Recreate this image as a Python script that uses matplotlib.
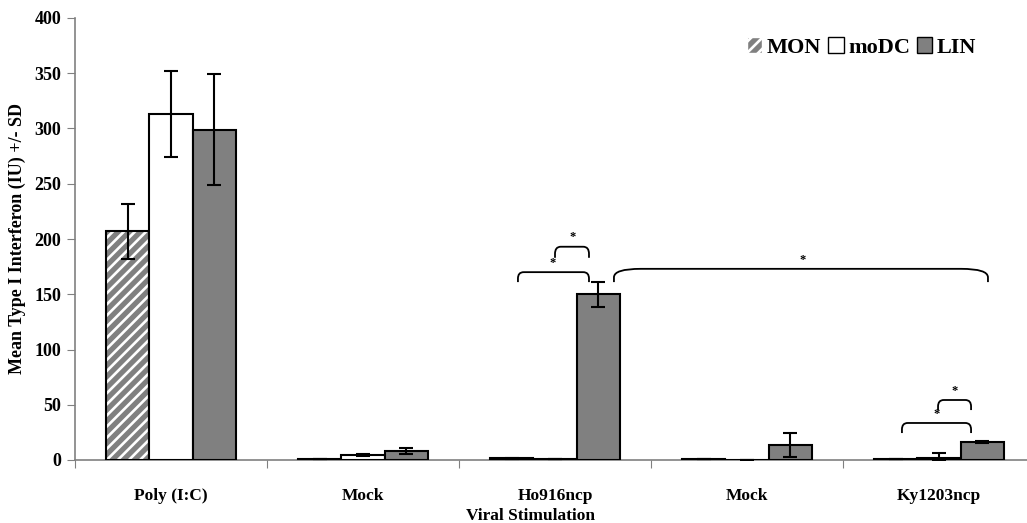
import numpy as np
import matplotlib
matplotlib.use("Agg")
import matplotlib.pyplot as plt
from matplotlib.path import Path
from matplotlib.patches import PathPatch, Patch

# ── Data ──────────────────────────────────────────────────────────────────────

categories = ["Poly (I:C)", "Mock", "Ho916ncp", "Mock", "Ky1203ncp"]
series     = ["MON", "moDC", "LIN"]

mon_mean  = [207, 0.5, 1.5, 0.5, 0.5]
mon_sd    = [25, 0, 0.5, 0, 0]
modc_mean = [313, 4.5, 0.5, 0.0, 1.5]
modc_sd   = [39, 0.5, 0, 0, 4.5]
lin_mean  = [299, 8, 150, 13.5, 16]
lin_sd    = [50, 3, 11.5, 11, 1]

# significance brackets: (x0, x1, y_top, y_end, star_x)
brackets = [
    (1.807, 2.177, 170, 161, 1.99),
    (2.000, 2.177, 193, 183, 2.09),
    (3.807, 4.167, 33.5, 24.4, 3.99),
    (3.995, 4.167, 54.3, 45.2, 4.08),
]
long_brace = (2.307, 4.255, 173, 161, 3.29)

# ── Style ─────────────────────────────────────────────────────────────────────

GREY = "#808080"
plt.rcParams.update({
    "font.family": ["Liberation Serif", "DejaVu Serif"],
    "font.weight": "bold",
    "axes.labelweight": "bold",
    "hatch.linewidth": 1.9,
})

W, H = 1027, 523
fig = plt.figure(figsize=(W / 100, H / 100), dpi=100)
ax = fig.add_axes([75 / W, 63 / H, 960 / W, 442 / H])

x = np.arange(len(categories))
bw = 0.224

# MON: grey with white diagonal stripes
ax.bar(x - bw, mon_mean, bw, color=GREY, edgecolor="white", hatch="///",
       linewidth=0, zorder=2)
ax.bar(x - bw, mon_mean, bw, fill=False, edgecolor="black", linewidth=1.5, zorder=3)
ax.bar(x, modc_mean, bw, color="white", edgecolor="black", linewidth=1.5, zorder=3)
ax.bar(x + bw, lin_mean, bw, color=GREY, edgecolor="black", linewidth=1.5, zorder=3)

for off, m, s in [(-bw, mon_mean, mon_sd), (0, modc_mean, modc_sd), (bw, lin_mean, lin_sd)]:
    lo = [min(sv, mv) for mv, sv in zip(m, s)]
    ax.errorbar(x + off, m, yerr=[lo, s], fmt="none", ecolor="black",
                elinewidth=1.5, capsize=5, capthick=1.5, zorder=4)

def bracket(x0, x1, yt, ye, r=0.03, dy=None):
    dy = dy if dy is not None else (yt - ye) * 0.9
    verts = [(x0, ye), (x0, ye + dy * 0.4), (x0, yt), (x0 + r, yt),
             (x1 - r, yt), (x1, yt), (x1, ye + dy * 0.4), (x1, ye)]
    codes = [Path.MOVETO, Path.LINETO, Path.CURVE3, Path.CURVE3,
             Path.LINETO, Path.CURVE3, Path.CURVE3, Path.LINETO]
    ax.add_patch(PathPatch(Path(verts, codes), fill=False, lw=1.3,
                           edgecolor="black", zorder=5, clip_on=False))

for x0, x1, yt, ye, sx in brackets:
    bracket(x0, x1, yt, ye)
    ax.text(sx, yt + 3, "*", ha="center", va="bottom", fontsize=9)

x0, x1, yt, ye, sx = long_brace
bracket(x0, x1, yt, ye, r=0.14)
ax.text(sx, yt + 3, "*", ha="center", va="bottom", fontsize=9)

# ── Axes ──────────────────────────────────────────────────────────────────────

ax.set_xlim(-0.5, 4.5)
ax.set_ylim(0, 400)
ax.set_yticks(range(0, 401, 50))
ax.set_xticks(np.arange(-0.5, 4.6, 1))
ax.set_xticklabels([])
ax.set_xticks(x, minor=True)
ax.set_xticklabels(categories, minor=True, fontsize=12.5)
ax.tick_params(axis="x", which="minor", length=0, pad=20)
ax.tick_params(axis="x", which="major", length=6, color=GREY, direction="out")
ax.tick_params(axis="y", length=6, color=GREY, labelsize=13, pad=4)

for sp in ["top", "right"]:
    ax.spines[sp].set_visible(False)
for sp in ["left", "bottom"]:
    ax.spines[sp].set_color(GREY)
    ax.spines[sp].set_linewidth(1.2)

ax.set_ylabel("Mean Type I Interferon (IU) +/- SD", fontsize=13, labelpad=6)
fig.text(530 / W, 7 / H, "Viral Stimulation", ha="center", va="center",
         fontsize=12.5, fontweight="bold")

handles = [
    Patch(facecolor=GREY, edgecolor="white", hatch="///", label="MON"),
    Patch(facecolor="white", edgecolor="black", label="moDC"),
    Patch(facecolor=GREY, edgecolor="black", label="LIN"),
]
leg = fig.legend(handles=handles, loc="upper right", bbox_to_anchor=(996 / W, 506 / H),
                 ncol=3, frameon=False, fontsize=16, handlelength=0.7,
                 handleheight=0.7, handletextpad=0.2, columnspacing=0.3)

fig.savefig("out.png", dpi=100)
